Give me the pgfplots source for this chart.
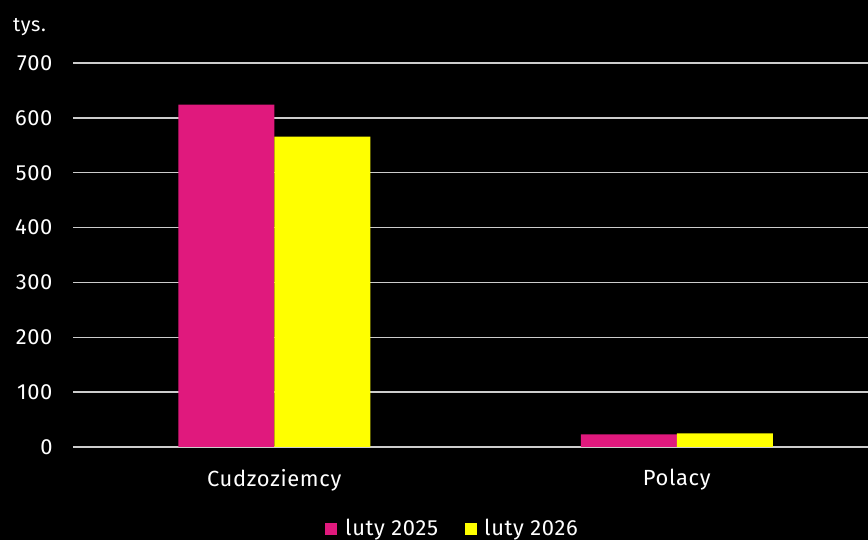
\documentclass[border=0pt]{standalone}
\usepackage{pgfplots}
\pgfplotsset{compat=1.18}
\usepackage{fontspec}
\setmainfont{Fira Sans}[LetterSpace=3]
\definecolor{mag}{HTML}{E0197D}
\definecolor{yel}{HTML}{FFFF00}
\definecolor{gridc}{HTML}{CCCCCC}
\begin{document}
\begin{tikzpicture}
\fill[black] (0bp,0bp) rectangle (868bp,540bp);
\begin{axis}[
  at={(73bp,93bp)}, anchor=south west,
  scale only axis, width=795bp, height=384bp,
  ymin=0, ymax=700, xmin=-0.5, xmax=1.475,
  ybar=0pt, bar width=96bp,
  ytick={0,100,...,700},
  xtick={0,1}, xticklabels={Cudzoziemcy,Polacy},
  axis line style={draw=none},
  ymajorgrids, xmajorgrids=false, grid style={gridc, line width=1.5pt},
  major tick length=0pt,
  tick label style={white, font=\fontsize{22}{26}\selectfont},
  /pgf/number format/assume math mode=true,
  yticklabel style={xshift=-17bp},
  xticklabel style={yshift=-19bp},
  clip=false,
]
\addplot[fill=mag, draw=none, bar shift=-48bp] coordinates {(0,624) (1,23)};
\addplot[fill=yel, draw=none, bar shift=48bp] coordinates {(0,566) (1,25)};
\end{axis}
\node[white, anchor=base west, inner sep=0pt, font=\fontsize{20}{24}\selectfont] at (13bp,508bp) {tys.};
\fill[mag] (325bp,5bp) rectangle (337bp,17bp);
\node[white, anchor=base west, inner sep=0pt, font=\fontsize{22}{26}\selectfont] at (345bp,5bp) {luty 2025};
\fill[yel] (465bp,5bp) rectangle (477bp,17bp);
\node[white, anchor=base west, inner sep=0pt, font=\fontsize{22}{26}\selectfont] at (484bp,5bp) {luty 2026};
\pgfresetboundingbox
\useasboundingbox (0bp,0bp) rectangle (868bp,540bp);
\end{tikzpicture}
\end{document}
